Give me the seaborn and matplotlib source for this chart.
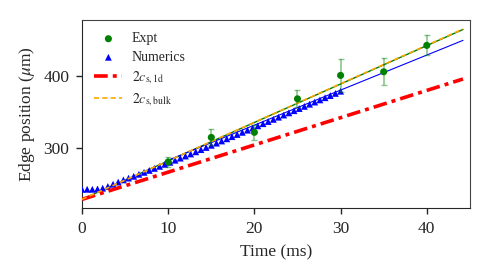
import numpy as np
import pandas as pd
import matplotlib
matplotlib.use("Agg")
import matplotlib.pyplot as plt
import seaborn as sns

# Experimental data
expt_t = [10, 15, 20, 25, 30, 35, 40]
expt_y = [281, 315, 322, 368.5, 401, 406, 442.6]
expt_err = [7, 11, 10, 12, 23, 19, 14]

# Numerics
num_t = [0.0, 0.6, 1.2, 1.8, 2.4, 3.0, 3.6, 4.2, 4.8, 5.4, 6.0, 6.6, 7.2, 7.8,
         8.4, 9.0, 9.6, 10.2, 10.8, 11.4, 12.0, 12.6, 13.2, 13.8, 14.4, 15.0,
         15.6, 16.2, 16.8, 17.4, 18.0, 18.6, 19.2, 19.8, 20.4, 21.0, 21.6,
         22.2, 22.8, 23.4, 24.0, 24.6, 25.2, 25.8, 26.4, 27.0, 27.6, 28.2,
         28.8, 29.4, 30.0]
num_y = [243, 243, 243, 243.5, 244.5, 247, 250, 253, 256, 258.5, 261, 263.8,
         266.5, 269.2, 272, 274.8, 277.6, 280.4, 283.3, 286.2, 289.1, 292,
         295, 298, 301, 304, 307, 310, 313, 316, 319, 322, 325, 328, 331, 334,
         337, 340, 343, 346, 349, 352, 355, 358, 361, 364, 367, 370, 373, 376,
         379]

# Fit lines (endpoints)
numfit_t = [10, 44.2]
numfit_y = [283.4, 449.6]
exptfit_t = [0, 44.2]
exptfit_y = [229.1, 464.7]
c1d_t = [0, 44.2]
c1d_y = [229, 396]
cbulk_t = [0, 44.2]
cbulk_y = [229, 465.3]

sns.set_style("ticks")
plt.rcParams["font.family"] = ["Liberation Serif", "DejaVu Serif"]
plt.rcParams["mathtext.fontset"] = "stix"
plt.rcParams["font.size"] = 12.5

fig = plt.figure(figsize=(4.91, 2.80), dpi=100)
ax = fig.add_axes([0.167, 0.257, 0.790, 0.672])

# fits
sns.lineplot(x=exptfit_t, y=exptfit_y, ax=ax, color="green", lw=1.0, zorder=2)
sns.lineplot(x=numfit_t, y=numfit_y, ax=ax, color="blue", lw=0.8, zorder=2)

# numerics
sns.scatterplot(x=num_t, y=num_y, ax=ax, marker="^", color="blue", s=24,
                edgecolor="none", label="Numerics", zorder=3)

# theory lines
ax.plot(c1d_t, c1d_y, color="red", lw=2.6, linestyle=(0, (3.8, 1.4, 1.1, 1.4)),
        label=r"$2c_{\rm s,1d}$", zorder=4)
ax.plot(cbulk_t, cbulk_y, color="orange", lw=1.2, linestyle=(0, (3, 2)),
        label=r"$2c_{\rm s,bulk}$", zorder=4)

# expt
ax.errorbar(expt_t, expt_y, yerr=expt_err, fmt="none", ecolor="green",
            alpha=0.45, capsize=2.5, elinewidth=1.2, zorder=5)
sns.scatterplot(x=expt_t, y=expt_y, ax=ax, color="green", s=26,
                edgecolor="none", label="Expt", zorder=6)

ax.set_xlim(0, 45)
ax.set_ylim(217, 478)
ax.set_xticks([0, 10, 20, 30, 40])
ax.set_yticks([300, 400])
ax.set_xlabel("Time (ms)", labelpad=6)
ax.set_ylabel(r"Edge position ($\mu$m)", labelpad=5)
ax.tick_params(direction="out", length=4, width=1, pad=5)
for s in ["top", "right"]:
    ax.spines[s].set_color("#444444")

handles, labels = ax.get_legend_handles_labels()
order = ["Expt", "Numerics", r"$2c_{\rm s,1d}$", r"$2c_{\rm s,bulk}$"]
hmap = dict(zip(labels, handles))
ax.legend([hmap[k] for k in order], order, loc="upper left", frameon=False,
          fontsize=10, handlelength=2.0, handletextpad=0.7,
          borderaxespad=0.5, labelspacing=0.4)

fig.savefig("out.png", dpi=100)
